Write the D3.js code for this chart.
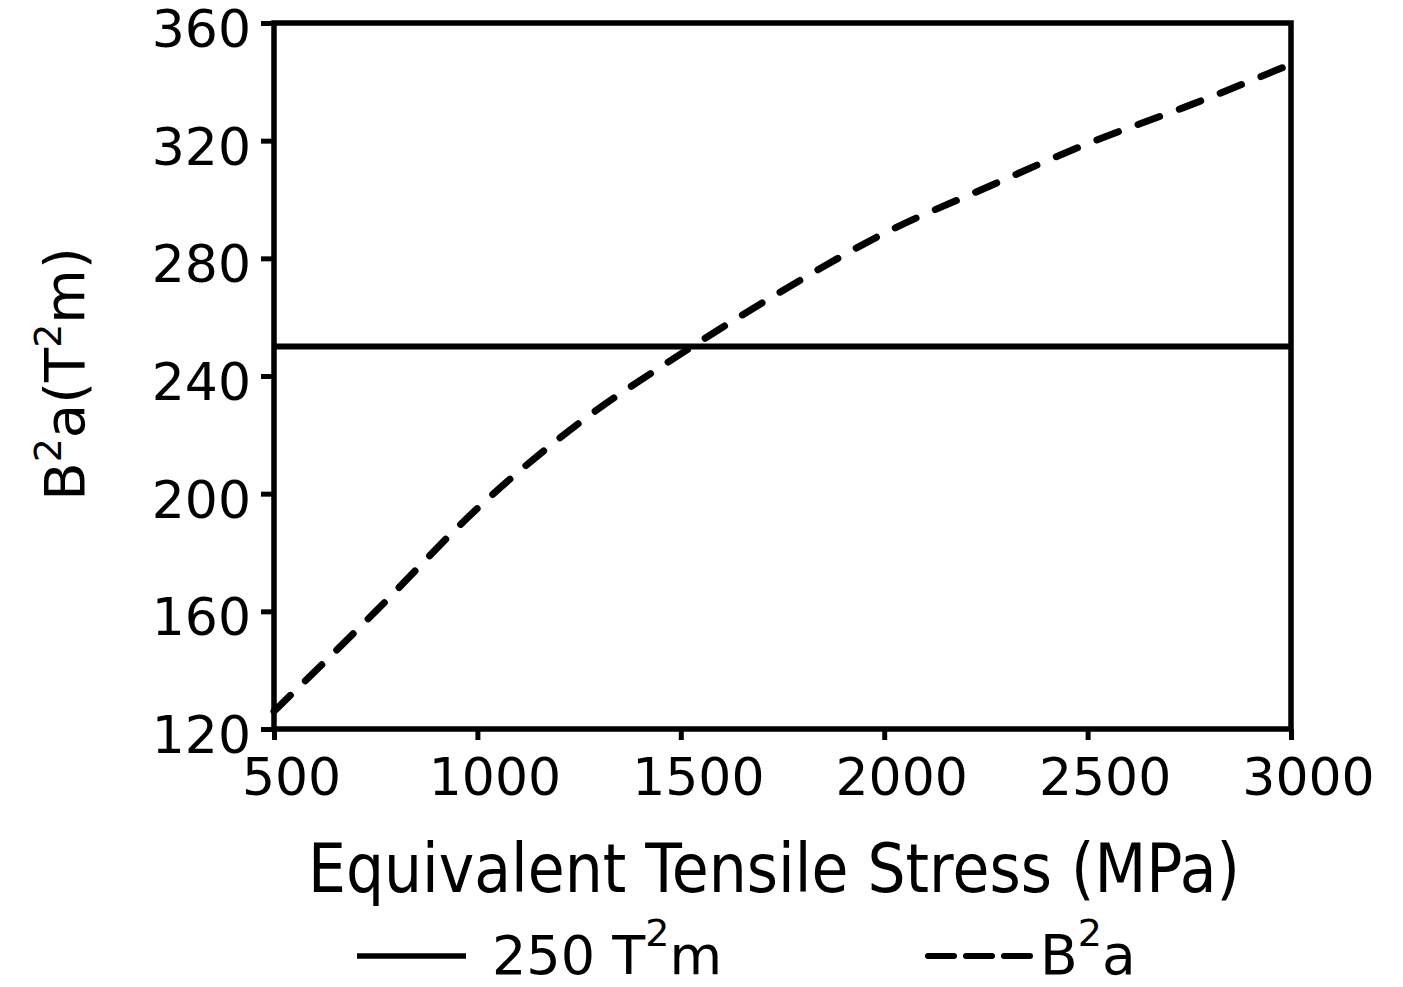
<!doctype html>
<html lang="en">
<head>
<meta charset="utf-8">
<title>B2a vs equivalent tensile stress</title>
<script src="https://d3js.org/d3.v7.min.js"></script>
<style>
  body { margin: 0; background: #fff; }
  text { font-family: "DejaVu Sans", sans-serif; fill: #000; }
</style>
</head>
<body>
<div id="chart"></div>
<script>
// stress values (MPa) and B^2 a values (T^2 m)
var stress = [500, 750, 1000, 1250, 1500, 1750, 2000, 2250, 2500, 2750, 3000];
var b2a = [126, 160, 195, 224, 247.5, 269, 288.5, 304, 319, 332, 346];
var limitValue = 250;
var xTicks = [500, 1000, 1500, 2000, 2500, 3000];
var yTicks = [120, 160, 200, 240, 280, 320, 360];

var W = 1403, H = 987;
var margin = {top: 23, right: 112, bottom: 258, left: 274};
var width = W - margin.left - margin.right,
    height = H - margin.top - margin.bottom;

var svg = d3.select("#chart").append("svg")
  .attr("width", W)
  .attr("height", H);

var g = svg.append("g")
  .attr("transform", "translate(" + margin.left + "," + margin.top + ")");

var x = d3.scaleLinear().domain([500, 3000]).range([0, width]);
var y = d3.scaleLinear().domain([120, 360]).range([height, 0]);

// axes
var xAxis = g.append("g")
  .attr("transform", "translate(0," + height + ")")
  .call(d3.axisBottom(x).tickValues(xTicks).tickSize(11).tickPadding(18).tickFormat(d3.format("d")));
xAxis.selectAll("text").attr("font-size", "52px").attr("dx", "17px").attr("dy", "0.71em");

var yAxis = g.append("g")
  .call(d3.axisLeft(y).tickValues(yTicks).tickSize(13).tickPadding(10).tickFormat(d3.format("d")));
yAxis.selectAll("text").attr("font-size", "52px").attr("dy", "0.45em");

g.selectAll(".domain").remove();
g.selectAll(".tick line").attr("stroke", "#000").attr("stroke-width", 5);

// frame
g.append("rect")
  .attr("x", 0).attr("y", 0)
  .attr("width", width).attr("height", height)
  .attr("fill", "none")
  .attr("stroke", "#000")
  .attr("stroke-width", 5.5);

// 250 T2m line
g.append("line")
  .attr("x1", x(500)).attr("x2", x(3000))
  .attr("y1", y(limitValue)).attr("y2", y(limitValue))
  .attr("stroke", "#000")
  .attr("stroke-width", 6);

// B2a dashed curve
var line = d3.line()
  .x(function(d, i) { return x(stress[i]); })
  .y(function(d) { return y(d); })
  .curve(d3.curveMonotoneX);

g.append("path")
  .datum(b2a)
  .attr("d", line)
  .attr("fill", "none")
  .attr("stroke", "#000")
  .attr("stroke-width", 7)
  .attr("stroke-linecap", "round")
  .attr("stroke-dasharray", "23,21");

// x axis title
svg.append("text")
  .attr("x", 308)
  .attr("y", 892)
  .attr("font-size", "68px")
  .attr("textLength", 932)
  .attr("lengthAdjust", "spacingAndGlyphs")
  .text("Equivalent  Tensile  Stress (MPa)");

// y axis title
var yl = svg.append("text")
  .attr("transform", "translate(84,374) rotate(-90)")
  .attr("text-anchor", "middle")
  .attr("font-size", "56px");
yl.append("tspan").text("B");
yl.append("tspan").attr("font-size", "38px").attr("dy", "-0.6em").text("2");
yl.append("tspan").attr("dy", "0.41em").text("a(T");
yl.append("tspan").attr("font-size", "38px").attr("dy", "-0.6em").text("2");
yl.append("tspan").attr("dy", "0.41em").text("m)");

// legend
svg.append("line")
  .attr("x1", 357).attr("x2", 466)
  .attr("y1", 956).attr("y2", 956)
  .attr("stroke", "#000").attr("stroke-width", 5.5);

var l1 = svg.append("text")
  .attr("x", 492).attr("y", 974)
  .attr("font-size", "54px");
l1.append("tspan").text("250 T");
l1.append("tspan").attr("font-size", "38px").attr("dy", "-0.75em").text("2");
l1.append("tspan").attr("dy", "0.53em").text("m");

svg.append("line")
  .attr("x1", 928).attr("x2", 1034)
  .attr("y1", 956).attr("y2", 956)
  .attr("stroke", "#000").attr("stroke-width", 6)
  .attr("stroke-linecap", "round")
  .attr("stroke-dasharray", "26,12");

var l2 = svg.append("text")
  .attr("x", 1040).attr("y", 974)
  .attr("font-size", "55px");
l2.append("tspan").text("B");
l2.append("tspan").attr("font-size", "38px").attr("dy", "-0.75em").text("2");
l2.append("tspan").attr("dy", "0.52em").text("a");
</script>
</body>
</html>
